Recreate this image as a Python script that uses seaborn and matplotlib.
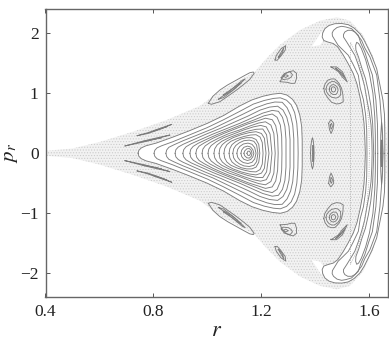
import matplotlib
matplotlib.use("Agg")
import matplotlib.pyplot as plt
import pandas as pd
import seaborn as sns

# upper half of the section (pr > 0), the picture is mirror symmetric about pr = 0
# nested curves of the main island, left tip -> top -> right edge #################
main_rings = [
    ([.743, .746, .755, .772, .81, .872, .93, 1.0, 1.06, 1.12, 1.165, 1.205, 1.24, 1.27, 1.295, 1.315, 1.33, 1.342, 1.349, 1.351, 1.351],
     [0, .05, .09, .125, .17, .27, .37, .50, .63, .79, .89, .95, .985, 1.0, .97, .90, .80, .64, .45, .22, 0]),
    ([.802, .805, .813, .83, .87, .93, 1.0, 1.06, 1.12, 1.17, 1.21, 1.245, 1.27, 1.293, 1.31, 1.323, 1.331, 1.335, 1.336],
     [0, .05, .09, .125, .19, .30, .43, .56, .70, .82, .88, .915, .925, .885, .81, .68, .50, .25, 0]),
    ([.846, .849, .857, .875, .91, .96, 1.02, 1.08, 1.135, 1.18, 1.22, 1.25, 1.277, 1.295, 1.308, 1.316, 1.32, 1.32],
     [0, .055, .10, .14, .21, .30, .41, .54, .66, .76, .825, .855, .85, .76, .63, .47, .24, 0]),
    ([.88, .883, .892, .91, .945, .99, 1.05, 1.105, 1.15, 1.195, 1.23, 1.26, 1.28, 1.294, 1.302, 1.306, 1.306],
     [0, .06, .105, .15, .22, .31, .42, .53, .62, .72, .77, .785, .72, .60, .45, .23, 0]),
    ([.909, .912, .921, .94, .975, 1.02, 1.07, 1.12, 1.165, 1.205, 1.24, 1.263, 1.278, 1.287, 1.291, 1.291],
     [0, .06, .11, .16, .23, .32, .41, .50, .59, .67, .715, .70, .60, .45, .23, 0]),
    ([.935, .938, .947, .965, 1.0, 1.04, 1.09, 1.135, 1.175, 1.21, 1.24, 1.258, 1.27, 1.275, 1.276],
     [0, .065, .115, .165, .24, .32, .41, .49, .56, .625, .655, .60, .47, .28, 0]),
    ([.957, .96, .969, .987, 1.02, 1.06, 1.105, 1.15, 1.185, 1.215, 1.24, 1.253, 1.26, 1.262],
     [0, .065, .12, .17, .25, .33, .41, .49, .54, .585, .56, .46, .28, 0]),
    ([.98, .983, .992, 1.01, 1.04, 1.08, 1.12, 1.16, 1.19, 1.215, 1.235, 1.246, 1.251],
     [0, .07, .125, .18, .25, .33, .39, .46, .505, .525, .47, .33, 0]),
    ([1.002, 1.005, 1.014, 1.032, 1.06, 1.095, 1.135, 1.17, 1.197, 1.218, 1.232, 1.239],
     [0, .07, .13, .19, .26, .32, .39, .44, .465, .44, .32, 0]),
    ([1.024, 1.027, 1.036, 1.053, 1.08, 1.115, 1.15, 1.18, 1.205, 1.219, 1.228],
     [0, .075, .14, .20, .26, .32, .37, .40, .405, .31, 0]),
    ([1.043, 1.046, 1.055, 1.07, 1.095, 1.125, 1.155, 1.18, 1.2, 1.211, 1.217],
     [0, .08, .145, .20, .26, .31, .345, .36, .33, .25, 0]),
    ([1.061, 1.064, 1.072, 1.087, 1.11, 1.135, 1.16, 1.18, 1.195, 1.203, 1.206],
     [0, .08, .145, .20, .245, .28, .305, .31, .27, .18, 0]),
    ([1.08, 1.083, 1.091, 1.105, 1.125, 1.145, 1.165, 1.18, 1.19, 1.194],
     [0, .08, .145, .195, .24, .26, .26, .23, .15, 0]),
    ([1.094, 1.097, 1.105, 1.118, 1.135, 1.155, 1.172, 1.182, 1.187],
     [0, .075, .13, .175, .21, .22, .20, .14, 0]),
    ([1.109, 1.112, 1.12, 1.133, 1.15, 1.165, 1.175, 1.18],
     [0, .065, .115, .155, .17, .15, .095, 0]),
    ([1.124, 1.127, 1.135, 1.148, 1.16, 1.168, 1.172],
     [0, .055, .10, .12, .105, .06, 0]),
    ([1.135, 1.138, 1.146, 1.155, 1.162, 1.165],
     [0, .04, .075, .08, .05, 0]),
    ([1.146, 1.15, 1.156, 1.16],
     [0, .035, .035, 0]),
]

# big loops on the right, from pr=0 over the top and back to pr=0 ##################
right_loops = [
    ([1.657, 1.657, 1.656, 1.650, 1.639, 1.627, 1.609, 1.596, 1.580, 1.565, 1.543, 1.522, 1.498, 1.472, 1.450, 1.435, 1.427, 1.425, 1.431, 1.446, 1.466, 1.483, 1.503, 1.520, 1.540, 1.554, 1.565, 1.574, 1.580, 1.583, 1.585],
     [0, .305, .638, .888, 1.138, 1.41, 1.62, 1.743, 1.888, 1.993, 2.088, 2.143, 2.163, 2.16, 2.13, 2.077, 2.005, 1.938, 1.88, 1.855, 1.83, 1.772, 1.638, 1.505, 1.333, 1.155, .943, .722, .505, .255, 0]),
    ([1.650, 1.646, 1.639, 1.627, 1.602, 1.583, 1.571, 1.550, 1.534, 1.513, 1.497, 1.480, 1.467, 1.462, 1.463, 1.472, 1.484, 1.502, 1.522, 1.539, 1.559, 1.566, 1.578, 1.586, 1.590, 1.591],
     [0, .472, .888, 1.305, 1.605, 1.755, 1.883, 2.005, 2.077, 2.105, 2.117, 2.097, 2.05, 2.005, 1.955, 1.888, 1.8, 1.722, 1.633, 1.488, 1.30, 1.088, .888, .638, .388, 0]),
    ([1.631, 1.630, 1.624, 1.611, 1.598, 1.583, 1.568, 1.559, 1.546, 1.534, 1.520, 1.509, 1.504, 1.504, 1.516, 1.532, 1.546, 1.559, 1.571, 1.582, 1.591, 1.600, 1.606, 1.609, 1.610],
     [0, .472, .888, 1.305, 1.472, 1.688, 1.838, 1.967, 2.022, 2.05, 2.05, 2.022, 1.98, 1.938, 1.855, 1.738, 1.633, 1.472, 1.30, 1.122, .888, .672, .472, .222, 0]),
    ([1.622, 1.622, 1.62, 1.613, 1.60, 1.586, 1.57, 1.56, 1.553, 1.549, 1.55, 1.56, 1.572, 1.585, 1.596, 1.605, 1.612, 1.616],
     [0, .3, .6, 1.0, 1.33, 1.56, 1.75, 1.83, 1.85, 1.8, 1.72, 1.60, 1.42, 1.25, 1.03, .80, .5, 0]),
    ([1.641, 1.642, 1.645, 1.649, 1.65],
     [0, .30, .52, .30, 0]),
    ([1.644, 1.645, 1.647, 1.647],
     [0, .22, .22, 0]),
    ([1.389, 1.389, 1.391, 1.391],
     [0, .13, .13, 0]),
    ([1.382, 1.383, 1.386, 1.389, 1.392, 1.394, 1.395],
     [0, .12, .21, .26, .21, .12, 0]),
]

# the dotted torus between the loops
dotted_r = [1.60, 1.598, 1.59, 1.575, 1.553, 1.53]
dotted_p = [0, .47, .888, 1.30, 1.633, 1.85]

# small islands, closed in the upper half and repeated in the lower one ##############
islands = [
    ([1.003, 1.02, 1.046, 1.075, 1.108, 1.135, 1.157, 1.17, 1.173, 1.157, 1.135, 1.108, 1.075, 1.046, 1.015, 1.003],
     [.833, .95, 1.055, 1.14, 1.222, 1.29, 1.343, 1.355, 1.333, 1.233, 1.15, 1.055, .95, .86, .817, .833]),
    ([1.04, 1.08, 1.13, 1.14, 1.10, 1.06, 1.04],
     [.90, 1.03, 1.22, 1.24, 1.07, .93, .90]),
    ([1.06, 1.09, 1.12, 1.125, 1.09, 1.06, 1.06],
     [.98, 1.07, 1.17, 1.17, 1.04, .96, .98]),
    ([1.25, 1.255, 1.272, 1.29, 1.288, 1.272, 1.258, 1.25],
     [1.555, 1.63, 1.74, 1.795, 1.72, 1.62, 1.55, 1.555]),
    ([1.262, 1.275, 1.283, 1.278, 1.265, 1.262],
     [1.60, 1.70, 1.76, 1.68, 1.60, 1.60]),
    ([1.269, 1.277, 1.287, 1.30, 1.318, 1.33, 1.33, 1.324, 1.31, 1.296, 1.269],
     [1.193, 1.26, 1.32, 1.355, 1.377, 1.333, 1.25, 1.167, 1.165, 1.183, 1.193]),
    ([1.273, 1.285, 1.305, 1.315, 1.31, 1.30, 1.28, 1.273],
     [1.26, 1.33, 1.36, 1.31, 1.27, 1.24, 1.23, 1.26]),
    ([1.28, 1.29, 1.30, 1.29, 1.28],
     [1.285, 1.31, 1.29, 1.265, 1.285]),
    ([1.431, 1.436, 1.447, 1.46, 1.472, 1.487, 1.497, 1.502, 1.503, 1.492, 1.478, 1.46, 1.447, 1.435, 1.431],
     [1.083, 1.16, 1.222, 1.24, 1.238, 1.17, 1.083, .97, .86, .83, .822, .85, .917, 1.0, 1.083]),
    ([1.439, 1.443, 1.45, 1.46, 1.47, 1.482, 1.49, 1.494, 1.493, 1.484, 1.475, 1.46, 1.45, 1.442, 1.439],
     [1.07, 1.13, 1.17, 1.195, 1.195, 1.16, 1.11, 1.04, .97, .93, .92, .935, .97, 1.02, 1.07]),
    ([1.451, 1.454, 1.46, 1.468, 1.475, 1.482, 1.484, 1.48, 1.475, 1.465, 1.458, 1.452, 1.451],
     [1.07, 1.11, 1.14, 1.145, 1.13, 1.09, 1.05, 1.0, .98, .98, 1.0, 1.04, 1.07]),
    ([1.459, 1.461, 1.467, 1.473, 1.475, 1.472, 1.466, 1.46, 1.459],
     [1.07, 1.1, 1.11, 1.09, 1.06, 1.03, 1.02, 1.04, 1.07]),
    ([1.457, 1.478, 1.50, 1.518, 1.50, 1.485, 1.465, 1.457],
     [1.44, 1.44, 1.36, 1.19, 1.27, 1.36, 1.42, 1.44]),
    ([1.475, 1.50, 1.51, 1.49, 1.475],
     [1.42, 1.33, 1.25, 1.35, 1.42]),
    ([1.449, 1.457, 1.468, 1.465, 1.458, 1.452, 1.449],
     [.50, .56, .50, .40, .33, .40, .50]),
    ([1.455, 1.46, 1.463, 1.458, 1.455],
     [.47, .50, .44, .40, .47]),
    # thin chains at the left end
    ([.739, .78, .83, .868, .83, .78, .739],
     [.293, .33, .41, .483, .425, .345, .293]),
    ([.80, .85, .80],
     [.365, .445, .375]),
    ([.694, .75, .81, .861, .81, .75, .694],
     [.122, .175, .24, .305, .255, .19, .122]),
    ([.76, .83, .76],
     [.19, .26, .20]),
]

# outer edge of the chaotic sea
sea_r = [.40, .50, .602, .724, .849, .972, 1.05, 1.176, 1.219, 1.268, 1.343, 1.417, 1.479,
         1.528, 1.577, 1.614, 1.651, 1.664, 1.667]
sea_p = [.04, .08, .19, .36, .555, .79, 1.05, 1.36, 1.583, 1.805, 2.055, 2.21, 2.267,
         2.21, 1.97, 1.61, .89, .34, 0]

# small empty wedge left of the top loop
wedge_r = [1.386, 1.423, 1.43, 1.417, 1.386]
wedge_p = [1.777, 2.03, 1.88, 1.805, 1.777]

x_ticks = [0.4, 0.8, 1.2, 1.6]
y_ticks = [-2, -1, 0, 1, 2]


def mirror(r, p):
    # add the lower half going back to the start
    return list(r) + list(r[::-1]), list(p) + [-v for v in p[::-1]]


def curve_table():
    rows = []
    n = 0
    for r, p in main_rings + right_loops:
        rr, pp = mirror(r, p)
        rows.append(pd.DataFrame({"r": rr, "pr": pp, "id": n}))
        n += 1
    for r, p in islands:
        rows.append(pd.DataFrame({"r": r, "pr": p, "id": n}))
        rows.append(pd.DataFrame({"r": r, "pr": [-v for v in p], "id": n + 1}))
        n += 2
    return pd.concat(rows, ignore_index=True)


sns.set_theme(style="ticks")
plt.rcParams["font.family"] = ["Liberation Serif", "DejaVu Serif"]
plt.rcParams["mathtext.fontset"] = "stix"
plt.rcParams["hatch.linewidth"] = 0.5

fig = plt.figure(figsize=(3.89, 3.41), dpi=100)
ax = fig.add_axes([45.5 / 389, 1 - 297.3 / 341, 342.8 / 389, 288 / 341])

# chaotic sea ########################################################################
rr, pp = mirror(sea_r, sea_p)
ax.fill(rr, pp, facecolor="#f2f2f2", edgecolor="#cccccc", hatch="......", linewidth=0, zorder=1)

# regular regions stay white
for r, p in [main_rings[0], right_loops[0]]:
    rr, pp = mirror(r, p)
    ax.fill(rr, pp, color="white", linewidth=0, zorder=1.5)
ax.fill(wedge_r, wedge_p, color="white", linewidth=0, zorder=1.5)
ax.fill(wedge_r, [-v for v in wedge_p], color="white", linewidth=0, zorder=1.5)

# curves #############################################################################
sns.lineplot(data=curve_table(), x="r", y="pr", units="id", estimator=None, sort=False,
             color="#7c7c7c", linewidth=0.65, legend=False, ax=ax, zorder=3)

dr, dp = mirror(dotted_r, dotted_p)
sns.lineplot(x=dr, y=dp, estimator=None, sort=False, color="#a0a0a0", linewidth=0.6,
             linestyle=":", ax=ax, zorder=3)

# axes ###############################################################################
ax.set_xlim(0.4, 1.67)
ax.set_ylim(-2.4, 2.4)
ax.set_xticks(x_ticks)
ax.set_xticklabels(["0.4", "0.8", "1.2", "1.6"])
ax.set_yticks(y_ticks)
ax.set_yticklabels(["\u22122", "\u22121", "0", "1", "2"])
ax.tick_params(direction="in", length=3, width=0.7, color="#555555", labelcolor="#222222",
               labelsize=12.5, top=True, right=True, pad=5)
for s in ax.spines.values():
    s.set_color("#666666")
    s.set_linewidth(1.0)
ax.set_xlabel("$r$", fontsize=16, color="#222222", labelpad=1)
ax.set_ylabel("$p_r$", fontsize=15, color="#222222", labelpad=0)

fig.savefig("out.png", dpi=100)
